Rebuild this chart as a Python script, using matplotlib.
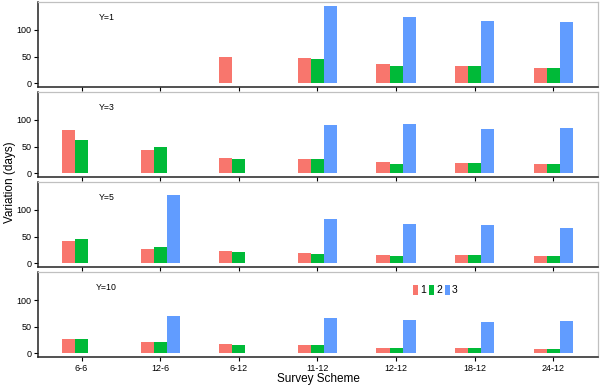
import matplotlib

matplotlib.use("Agg")
import matplotlib.pyplot as plt
import numpy as np

schemes = ["6-6", "12-6", "6-12", "11-12", "12-12", "18-12", "24-12"]
panel_labels = ["Y=1", "Y=3", "Y=5", "Y=10"]
series_names = ["1", "2", "3"]
nan = np.nan

# rows: panel Y=1, Y=3, Y=5, Y=10 ; columns follow `schemes`
series_1 = [
    [nan, nan, 50, 47, 37, 33, 29],
    [82, 43, 29, 26, 22, 20, 18],
    [42, 27, 23, 19, 16, 16, 14],
    [28, 21, 17.5, 16, 11, 11, 9],
]
series_2 = [
    [nan, nan, nan, 45, 33, 33, 29],
    [62, 50, 27, 26, 18, 20, 18],
    [45, 31, 21, 17.5, 14, 16, 14],
    [26.5, 21, 16, 16, 11, 11, 9],
]
series_3 = [
    [nan, nan, nan, 145, 124, 117, 115],
    [nan, nan, nan, 91, 93, 83, 85],
    [nan, 128, nan, 83, 74, 72, 67],
    [nan, 70, nan, 67, 63, 59, 61],
]
colors = ["#F8766D", "#00BA38", "#619CFF"]

plt.rcParams["font.family"] = ["Liberation Sans", "DejaVu Sans"]

fig, axes = plt.subplots(
    4, 1, figsize=(6.0, 3.88), dpi=100, sharex=True,
    gridspec_kw=dict(left=0.0625, right=0.997, top=0.995, bottom=0.079, hspace=0.056),
)

x = np.arange(1, len(schemes) + 1)
width = 1 / 6
for row, ax in enumerate(axes):
    for k, (values, color) in enumerate(zip((series_1, series_2, series_3), colors)):
        ax.bar(x + (k - 1) * width, values[row], width, color=color,
               linewidth=0, label=series_names[k])
    ax.set_xlim(0.44, 7.57)
    ax.set_ylim(-7.25, 152.25)
    ax.set_yticks([0, 50, 100])
    ax.set_xticks(x, schemes)
    ax.tick_params(axis="both", labelsize=6.5, length=3, width=0.8, pad=1.5, colors="black")
    for side in ("top", "right"):
        ax.spines[side].set_color("#C0C0C0")
        ax.spines[side].set_linewidth(0.9)
    for side in ("left", "bottom"):
        ax.spines[side].set_color("#222222")
        ax.spines[side].set_linewidth(1.1)
    ax.text(0.123, 0.82, panel_labels[row], transform=ax.transAxes,
            fontsize=6.3, ha="center", va="center")
    if row < 3:
        ax.tick_params(axis="x", labelbottom=False)

axes[3].legend(loc="center", bbox_to_anchor=(0.71, 0.79), ncol=3, frameon=False,
               fontsize=7.5, handlelength=0.45, handleheight=1.1, handletextpad=0.25,
               columnspacing=0.25, borderpad=0)

fig.text(0.53, 0.022, "Survey Scheme", ha="center", va="center", fontsize=8.5)
fig.text(0.017, 0.53, "Variation (days)", ha="center", va="center",
         rotation=90, fontsize=8.5)

fig.savefig("out.png", dpi=100)
